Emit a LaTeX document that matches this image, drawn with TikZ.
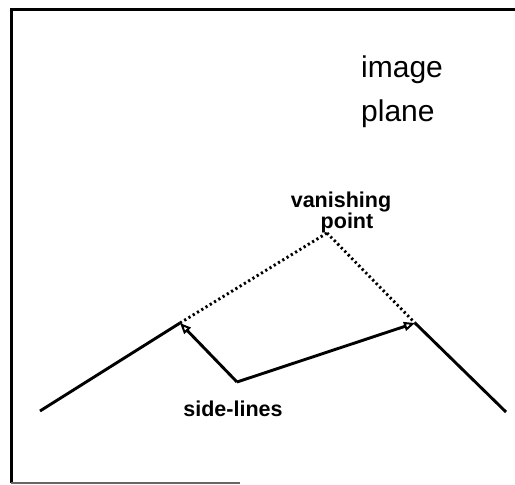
\documentclass[tikz,border=0pt]{standalone}
\usepackage{fontspec}
\setmainfont{Liberation Sans}
\usetikzlibrary{arrows.meta}
\begin{document}
\begin{tikzpicture}[x=1pt,y=-1pt,
  solidline/.style={line width=2.9pt},
  dotline/.style={line width=2.9pt, dash pattern=on 2.2pt off 2.8pt},
  sidearrow/.style={line width=2.9pt, -{Triangle[open,length=11pt,width=9pt,line width=2pt]}},
  bigtext/.style={font=\fontsize{30}{32}\selectfont, anchor=base west, inner sep=0pt},
  boldtext/.style={font=\bfseries\fontsize{21.5}{23}\selectfont, inner sep=0pt}]
\useasboundingbox (0,0) rectangle (515,485);
% frame
\coordinate (fbl) at (11,483);
\coordinate (ftl) at (11,9);
\coordinate (ftr) at (515,9);
\coordinate (fbr) at (240,483);
\draw[line width=3pt] (ftr) -- (ftl) -- (fbl);
\draw[line width=2.2pt, black!60] (fbl) -- (fbr);
% points
\coordinate (lstart) at (40,411);
\coordinate (ltip) at (180,323);
\coordinate (vp) at (327,233);
\coordinate (rtip) at (415,323);
\coordinate (rend) at (506,412);
\coordinate (elbow) at (237,382);
% side lines
\draw[solidline] (lstart) -- (ltip);
\draw[dotline] (ltip) -- (vp);
\draw[dotline] (vp) -- (rtip);
\draw[solidline] (rtip) -- (rend);
% arrows
\draw[sidearrow] (elbow) -- (ltip);
\draw[sidearrow] (elbow) -- (rtip);
% texts
\node[bigtext] (im) at (361,77) {image};
\node[bigtext] (pl) at (361,121) {plane};
\node[boldtext, anchor=base] (van) at (341,207) {vanishing};
\node[boldtext, anchor=base] (pt) at (347,228) {point};
\node[boldtext] (sl) at (233,409) {side-lines};
\end{tikzpicture}
\end{document}
